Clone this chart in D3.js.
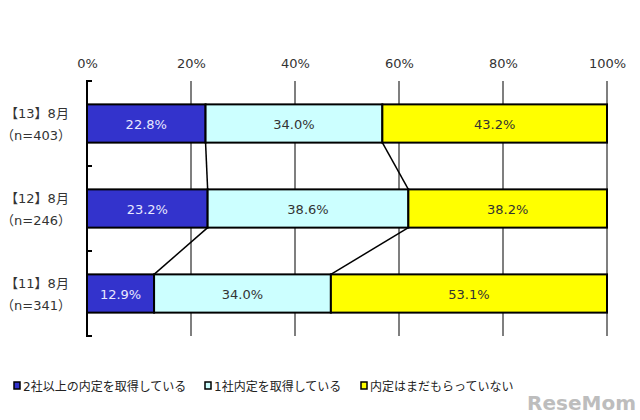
<!DOCTYPE html>
<html><head><meta charset="utf-8">
<script src="https://cdn.jsdelivr.net/npm/d3@7"></script>
<style>body{margin:0;background:#fff}svg{display:block}text{font-family:"DejaVu Sans","Noto Sans CJK JP",sans-serif}</style>
</head><body>
<svg id="c" width="640" height="420"></svg>
<script>
const categories = ["【13】8月", "【12】8月", "【11】8月"];
const sampleSizes = ["（n=403）", "（n=246）", "（n=341）"];
const seriesNames = ["2社以上の内定を取得している", "1社内定を取得している", "内定はまだもらっていない"];
const multipleOffers = [22.8, 23.2, 12.9];
const oneOffer = [34.0, 38.6, 34.0];
const noOffer = [43.2, 38.2, 53.1];
const tickValues = [0, 20, 40, 60, 80, 100];
const colors = ["#3333CC", "#CCFFFF", "#FFFF00"];
const textColors = ["#E8E8FF", "#333333", "#333333"];

const svg = d3.select("#c");
const x = d3.scaleLinear().domain([0, 100]).range([87, 607]);
const y = d3.scaleBand().domain(categories).range([81, 336]).paddingInner(0.55).paddingOuter(0.275);

const series = [multipleOffers, oneOffer, noOffer];
const rows = categories.map((c, i) => {
  let acc = 0;
  return series.map((s, k) => { const seg = {cat: c, k, v: s[i], x0: acc, x1: acc + s[i]}; acc += s[i]; return seg; });
});

// gridlines
svg.append("g").selectAll("line").data(tickValues.filter(d => d > 0)).join("line")
  .attr("x1", d => x(d)).attr("x2", d => x(d)).attr("y1", 81).attr("y2", 336)
  .attr("stroke", "#7f7f7f").attr("stroke-width", 2);

// top axis labels
const xAxis = d3.axisTop(x).tickValues(tickValues).tickFormat(d => d + "%").tickSize(0).tickPadding(0);
const gx = svg.append("g").attr("transform", "translate(0,68)").call(xAxis);
gx.select(".domain").remove();
gx.selectAll("text").attr("font-size", 13).attr("fill", "#333").attr("font-family", "'DejaVu Sans',sans-serif").attr("dy", 0);

// left axis
const bandEdges = [81, 81 + 85, 81 + 170, 336];
svg.append("line").attr("x1", 87).attr("x2", 87).attr("y1", 81).attr("y2", 336).attr("stroke", "#000").attr("stroke-width", 2);
svg.append("g").selectAll("line").data(bandEdges).join("line")
  .attr("x1", 86).attr("x2", 92).attr("y1", d => d).attr("y2", d => d).attr("stroke", "#000").attr("stroke-width", 2);

// connectors
for (let i = 0; i < rows.length - 1; i++) {
  [0, 1].forEach(k => {
    svg.append("line")
      .attr("x1", x(rows[i][k].x1)).attr("y1", y(categories[i]) + y.bandwidth())
      .attr("x2", x(rows[i + 1][k].x1)).attr("y2", y(categories[i + 1]))
      .attr("stroke", "#000").attr("stroke-width", 1.5);
  });
}

// bars
const g = svg.append("g");
rows.forEach(r => {
  g.selectAll(null).data(r).join("rect")
    .attr("x", d => x(d.x0)).attr("y", d => y(d.cat))
    .attr("width", d => x(d.x1) - x(d.x0)).attr("height", y.bandwidth())
    .attr("fill", d => colors[d.k]).attr("stroke", "#000").attr("stroke-width", 2);
  g.selectAll(null).data(r).join("text")
    .attr("x", d => (x(d.x0) + x(d.x1)) / 2).attr("y", d => y(d.cat) + y.bandwidth() / 2 + 5)
    .attr("text-anchor", "middle").attr("font-size", 13)
    .attr("fill", d => textColors[d.k]).text(d => d.v.toFixed(1) + "%");
});

// category labels
categories.forEach((c, i) => {
  const cy = y(c) + y.bandwidth() / 2;
  svg.append("text").attr("x", 37).attr("y", cy - 6).attr("text-anchor", "middle").attr("font-size", 13).attr("fill", "#333").text(c);
  svg.append("text").attr("x", 36).attr("y", cy + 16).attr("text-anchor", "middle").attr("font-size", 13).attr("fill", "#333")
    .attr("font-family", "'Noto Sans CJK JP',sans-serif").text(sampleSizes[i]);
});

// legend
const legendX = [14, 205, 361];
seriesNames.forEach((n, k) => {
  svg.append("rect").attr("x", legendX[k]).attr("y", 382).attr("width", 6).attr("height", 7)
    .attr("fill", colors[k]).attr("stroke", "#000").attr("stroke-width", 1.5);
  svg.append("text").attr("x", legendX[k] + 9).attr("y", 391).attr("font-size", 12).attr("fill", "#222").text(n);
});

// watermark
svg.append("text").attr("x", 636).attr("y", 410).attr("text-anchor", "end").attr("font-size", 20).attr("font-weight", "bold")
  .attr("fill", "#bdbdbd").attr("font-family", "'Liberation Sans Narrow','DejaVu Sans Condensed',sans-serif").text("ReseMom");
</script>
</body></html>
